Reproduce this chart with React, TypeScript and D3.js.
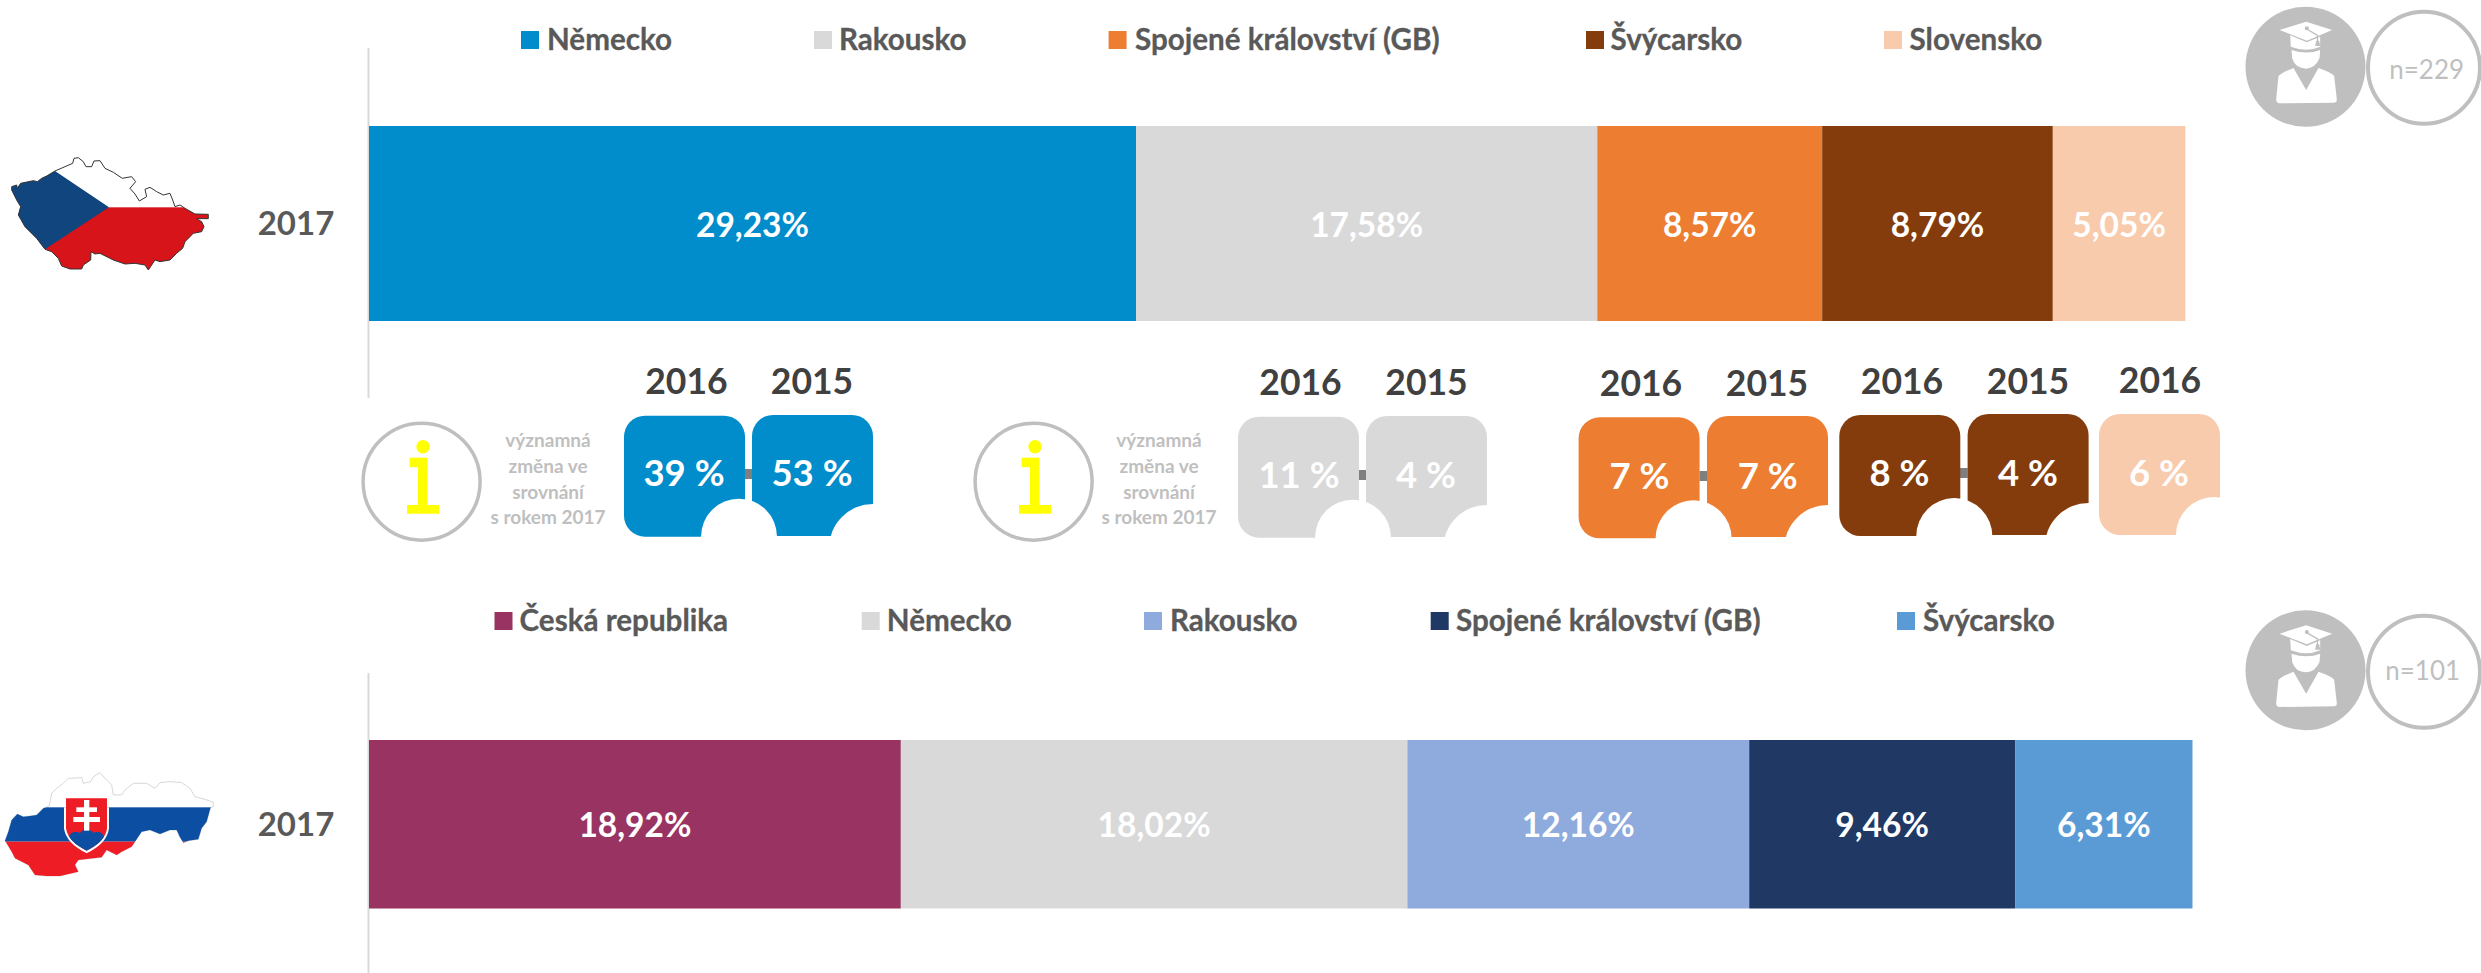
import React from "react";
import * as d3 from "d3";

// ---------- data ----------
const czCategories = ["Německo", "Rakousko", "Spojené království (GB)", "Švýcarsko", "Slovensko"];
const czValues = [29.23, 17.58, 8.57, 8.79, 5.05];
const czColors = ["#018CCC", "#D9D9D9", "#ED7D31", "#843C0C", "#F8CBAD"];
const skCategories = ["Česká republika", "Německo", "Rakousko", "Spojené království (GB)", "Švýcarsko"];
const skValues = [18.92, 18.02, 12.16, 9.46, 6.31];
const skColors = ["#983362", "#D9D9D9", "#8FAADC", "#1F3864", "#5B9BD5"];
const yearLabel = "2017";
const czN = "n=229";
const skN = "n=101";
const tileYears = ["2016", "2015", "2016", "2015", "2016", "2015", "2016", "2015", "2016"];
const tileValues = [39, 53, 11, 4, 7, 7, 8, 4, 6];
const tileColorIdx = [0, 0, 1, 1, 2, 2, 3, 3, 4];
const infoLines = ["významná", "změna ve", "srovnání", "s rokem 2017"];

// ---------- layout (separate from values) ----------
const FONT = "Lato, Carlito, Calibri, sans-serif";
const BAR_X0 = 369;
const UNIT_CZ = 26.24;
const UNIT_SK = 28.11;
const czLegendMarkers = [521, 814, 1108.6, 1586, 1884];
const czLegendTexts = [547, 839, 1135, 1610.6, 1909.6];
const skLegendMarkers = [494.5, 861.7, 1144, 1430.7, 1897];
const skLegendTexts = [519.6, 886.8, 1170, 1456, 1923];
// x, y of the tile; centre of value text, baseline; header centre, baseline
const tileLayout = [
  { x: 624, y: 415.7, tx: 684, ty: 486, hx: 686.4, hy: 394, second: false },
  { x: 752, y: 415, tx: 812, ty: 486, hx: 812, hy: 394, second: true },
  { x: 1238, y: 416.7, tx: 1299, ty: 488, hx: 1300.5, hy: 395, second: false },
  { x: 1366, y: 416, tx: 1426, ty: 488, hx: 1426.5, hy: 395, second: true },
  { x: 1578.6, y: 417.3, tx: 1639.4, ty: 488.7, hx: 1641, hy: 395.7, second: false },
  { x: 1707, y: 416, tx: 1767.7, ty: 488.7, hx: 1767, hy: 395.7, second: true },
  { x: 1839.3, y: 415, tx: 1899.5, ty: 486, hx: 1902, hy: 393.7, second: false },
  { x: 1967.6, y: 414, tx: 2028, ty: 486, hx: 2028, hy: 393.7, second: true },
  { x: 2099, y: 414, tx: 2159, ty: 486, hx: 2160, hy: 393, second: false },
];
const tileGroups = [[0, 1], [2, 3], [4, 5], [6, 7], [8]];
const TILE = 121;
const connectors = [
  { x: 744.5, y: 469 },
  { x: 1358, y: 470 },
  { x: 1699.5, y: 471 },
  { x: 1959.7, y: 468 },
];

const czOutline: [number, number][] = [[35,200],[50,195],[52,205],[62,190],[100,182],[112,185],[125,175],[140,168],[165,153],[195,140],[218,130],[222,115],[235,113],[250,125],[258,140],[275,140],[282,123],[300,122],[315,145],[340,157],[367,175],[395,170],[407,185],[390,205],[405,222],[418,243],[440,230],[435,208],[450,202],[470,215],[490,225],[510,220],[518,240],[525,260],[540,255],[555,265],[585,282],[625,283],[625,296],[590,296],[605,305],[612,320],[605,335],[580,340],[555,365],[548,385],[530,400],[510,420],[480,425],[465,420],[445,450],[435,435],[405,430],[375,432],[340,420],[300,400],[285,402],[273,395],[272,420],[250,435],[245,447],[210,447],[185,438],[175,415],[155,395],[135,388],[110,355],[75,320],[55,285],[62,260],[50,240],[35,210]];
const skOutline: [number, number][] = [[15,272],[25,245],[35,210],[52,192],[70,200],[90,198],[110,195],[130,175],[148,168],[155,130],[170,115],[190,100],[205,85],[245,83],[250,100],[272,95],[280,80],[300,68],[315,85],[335,105],[340,135],[365,135],[375,120],[400,100],[440,100],[465,115],[480,98],[510,95],[545,98],[570,115],[585,140],[615,148],[640,157],[640,170],[632,172],[620,215],[605,235],[595,268],[565,272],[550,278],[540,262],[530,240],[510,240],[480,252],[450,240],[425,245],[405,275],[395,290],[365,305],[350,315],[320,300],[305,322],[235,330],[225,345],[235,365],[180,378],[140,378],[105,375],[85,345],[45,325],[35,305],[20,280]];

const line = d3.line();

function Bars({ values, colors, unit, y, h, labelY }: any) {
  const total = d3.sum(values as number[]);
  const x = d3.scaleLinear().domain([0, total]).range([BAR_X0, BAR_X0 + unit * total]);
  const cum = [0, ...Array.from(d3.cumsum(values as number[]))];
  return (
    <g>
      {values.map((v: number, i: number) => (
        <g key={i}>
          <rect x={x(cum[i])} y={y} width={x(cum[i + 1]) - x(cum[i])} height={h} fill={colors[i]} />
          <text x={(x(cum[i]) + x(cum[i + 1])) / 2} y={labelY} textAnchor="middle" fill="#fff" fontWeight={700} fontSize={33.5} fontFamily={FONT}>
            {v.toFixed(2).replace(".", ",")}%
          </text>
        </g>
      ))}
    </g>
  );
}

function Legend({ cats, colors, markers, texts, y }: any) {
  return (
    <g>
      {cats.map((c: string, i: number) => (
        <g key={c}>
          <rect x={markers[i]} y={y} width={18} height={18} fill={colors[i]} />
          <text x={texts[i]} y={y + 19} fill="#595959" stroke="#595959" strokeWidth={0.3} fontWeight={700} fontSize={29.6} fontFamily={FONT}>{c}</text>
        </g>
      ))}
    </g>
  );
}

function Person({ cx, cy, nx, ncy, ntx, nty, label }: any) {
  return (
    <g>
      <circle cx={nx} cy={ncy} r={56} fill="#fff" stroke="#BFBFBF" strokeWidth={4} />
      <circle cx={cx} cy={cy} r={60} fill="#BFBFBF" />
      <g transform={`translate(${cx},${cy}) scale(0.3333) translate(-316,-200)`} fill="#fff">
        <path d="M238 90 L318 65 L396 90 L320 122 Z" />
        <path d="M270 106 L320 127 L360 110 L360 140 Q320 158 272 140 Z" />
        <path d="M274 150 Q320 165 360 150 L358 175 Q345 205 318 206 Q285 205 276 175 Z" />
        <path d="M228 298 L235 228 Q245 218 280 204 L318 270 L355 204 Q395 218 402 228 L410 298 Q410 308 402 308 L236 310 Q228 308 228 298 Z" />
        <path d="M318 86 L352 106 L352 125" fill="none" stroke="#BFBFBF" strokeWidth={4} />
        <circle cx={320} cy={85} r={6} fill="#BFBFBF" />
        <path d="M348 122 L357 122 L360 138 L345 138 Z" fill="#BFBFBF" />
      </g>
      <text x={ntx} y={nty} textAnchor="middle" fill="#BFBFBF" fontSize={26} fontFamily={FONT}>{label}</text>
    </g>
  );
}

function Info({ cx, tx }: any) {
  const d = cx - 421.6;
  return (
    <g>
      <circle cx={cx} cy={481.7} r={58.5} fill="#fff" stroke="#BFBFBF" strokeWidth={3.5} />
      <g fill="#FFFF00" transform={`translate(${d},0)`}>
        <circle cx={423} cy={446.7} r={6.7} />
        <rect x={418} y={457.7} width={9.5} height={50} />
        <rect x={409.6} y={457.7} width={9} height={9.5} />
        <rect x={407} y={505} width={32} height={8.7} />
      </g>
      {infoLines.map((l, i) => (
        <text key={l} x={tx} y={447 + i * 25.8} textAnchor="middle" fill="#BFBFBF" fontWeight={700} fontSize={19} fontFamily={FONT}>{l}</text>
      ))}
    </g>
  );
}

function Tiles() {
  return (
    <g>
      {connectors.map((c, i) => (
        <rect key={i} x={c.x} y={c.y} width={8} height={10} fill="#7F7F7F" />
      ))}
      {tileGroups.map((group, g) => (
        <g key={g}>
          {group.map((i) => {
            const t = tileLayout[i];
            return <rect key={i} x={t.x} y={t.y} width={TILE} height={TILE} rx={21} ry={21} fill={czColors[tileColorIdx[i]]} />;
          })}
          {group.map((i) => {
            const t = tileLayout[i];
            const r = t.x + TILE;
            const b = t.y + TILE;
            return t.second ? (
              <circle key={i} cx={r} cy={b + 12} r={44} fill="#fff" />
            ) : (
              <circle key={i} cx={r - 6} cy={b} r={38} fill="#fff" />
            );
          })}
        </g>
      ))}
      {tileLayout.map((t, i) => (
        <g key={i}>
          <text x={t.hx} y={t.hy} textAnchor="middle" fill="#404040" fontWeight={700} fontSize={35.5} fontFamily={FONT}>{tileYears[i]}</text>
          <text x={t.tx} y={t.ty} textAnchor="middle" fill="#fff" fontWeight={700} fontSize={36.5} fontFamily={FONT}>{tileValues[i]} %</text>
        </g>
      ))}
    </g>
  );
}

function CzechMap() {
  const d = line(czOutline)! + "Z";
  return (
    <g transform="translate(0,120) scale(0.3333)">
      <clipPath id="czclip"><path d={d} /></clipPath>
      <g clipPath="url(#czclip)">
        <rect x={0} y={0} width={700} height={262} fill="#fff" />
        <rect x={0} y={262} width={700} height={300} fill="#D7141A" />
        <path d="M0 0 L165 153 L327 262 L135 388 L0 500 Z" fill="#11457E" />
      </g>
      <path d={d} fill="none" stroke="#333" strokeWidth={3} strokeLinejoin="round" />
    </g>
  );
}

function SlovakMap() {
  const d = line(skOutline)! + "Z";
  return (
    <g transform="translate(0,750) scale(0.3333)">
      <clipPath id="skclip"><path d={d} /></clipPath>
      <path d={d} fill="#fff" stroke="#CFCFCF" strokeWidth={2.5} strokeLinejoin="round" />
      <g clipPath="url(#skclip)">
        <rect x={0} y={172} width={700} height={103} fill="#0B4EA2" />
        <rect x={0} y={275} width={700} height={200} fill="#EE1C25" />
      </g>
      <path d="M192 172 L327 172 L327 235 Q322 280 260 310 Q198 280 192 235 Z" fill="#fff" />
      <clipPath id="shield"><path d="M198 145 L321 145 L321 235 Q316 275 260 302 Q204 275 198 235 Z" /></clipPath>
      <path d="M198 145 L321 145 L321 235 Q316 275 260 302 Q204 275 198 235 Z" fill="#EE1C25" />
      <g clipPath="url(#shield)">
        <circle cx={227} cy={265} r={20} fill="#0B4EA2" />
        <circle cx={292} cy={265} r={20} fill="#0B4EA2" />
        <circle cx={260} cy={262} r={24} fill="#0B4EA2" />
        <rect x={200} y={268} width={120} height={40} fill="#0B4EA2" />
      </g>
      <g fill="#fff">
        <rect x={252} y={150} width={16} height={92} />
        <rect x={229} y={172} width={62} height={14} />
        <rect x={220} y={201} width={80} height={15} />
      </g>
    </g>
  );
}

export default function App() {
  return (
    <svg width={2481} height={973} viewBox="0 0 2481 973" style={{ position: "absolute", left: 0, top: 0, display: "block", background: "#fff" }}>
      <rect x={367.5} y={48} width={2} height={350} fill="#D9D9D9" />
      <rect x={367.5} y={673} width={2} height={300} fill="#D9D9D9" />
      <CzechMap />
      <SlovakMap />
      <text x={296} y={235} textAnchor="middle" fill="#595959" fontWeight={700} fontSize={33} fontFamily={FONT}>{yearLabel}</text>
      <text x={296} y={836} textAnchor="middle" fill="#595959" fontWeight={700} fontSize={33} fontFamily={FONT}>{yearLabel}</text>
      <Legend cats={czCategories} colors={czColors} markers={czLegendMarkers} texts={czLegendTexts} y={31} />
      <Legend cats={skCategories} colors={skColors} markers={skLegendMarkers} texts={skLegendTexts} y={612} />
      <Bars values={czValues} colors={czColors} unit={UNIT_CZ} y={126} h={195} labelY={237} />
      <Bars values={skValues} colors={skColors} unit={UNIT_SK} y={740} h={168.5} labelY={837} />
      <Info cx={421.6} tx={548} />
      <Info cx={1033.6} tx={1159} />
      <Tiles />
      <Person cx={2305.5} cy={66.7} nx={2424} ncy={67.7} ntx={2426.7} nty={78.7} label={czN} />
      <Person cx={2305.5} cy={670.3} nx={2424} ncy={671.7} ntx={2422.7} nty={680} label={skN} />
    </svg>
  );
}
